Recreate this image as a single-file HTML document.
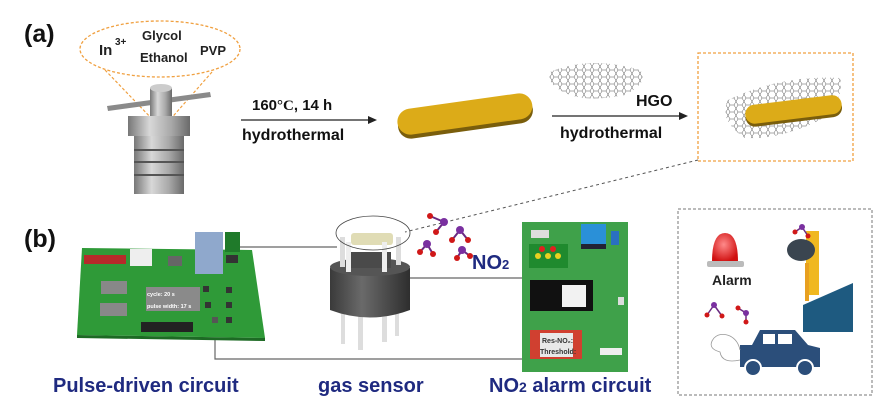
<!DOCTYPE html>
<html><head><meta charset="utf-8"><style>
html,body{margin:0;padding:0;background:#fff;}
svg{display:block;font-family:"Liberation Sans",Arial,sans-serif;}
</style></head><body>
<svg width="893" height="410" viewBox="0 0 893 410" xmlns="http://www.w3.org/2000/svg">
<defs>
<linearGradient id="metal" x1="0" x2="1"><stop offset="0" stop-color="#777"/><stop offset="0.35" stop-color="#d8d8d8"/><stop offset="0.7" stop-color="#a8a8a8"/><stop offset="1" stop-color="#6a6a6a"/></linearGradient>
<linearGradient id="dark" x1="0" x2="1"><stop offset="0" stop-color="#3a3a3a"/><stop offset="0.4" stop-color="#6a6a6a"/><stop offset="1" stop-color="#2e2e2e"/></linearGradient>
<radialGradient id="red" cx="0.45" cy="0.4" r="0.6"><stop offset="0" stop-color="#ff8a8a"/><stop offset="1" stop-color="#d01010"/></radialGradient>
<pattern id="hex" width="8" height="7" patternUnits="userSpaceOnUse"><path d="M2 0L6 0L8 3.5L6 7L2 7L0 3.5Z" fill="none" stroke="#555" stroke-width="0.5"/></pattern>
</defs>

<!-- (a) -->
<text x="24" y="42" font-size="25" font-weight="bold" fill="#111">(a)</text>
<ellipse cx="160" cy="49" rx="80" ry="28" fill="none" stroke="#f0a040" stroke-width="1.3" stroke-dasharray="3,2"/>
<line x1="105" y1="70" x2="155" y2="122" stroke="#f0a040" stroke-width="1.2" stroke-dasharray="3,2"/>
<line x1="212" y1="72" x2="168" y2="122" stroke="#f0a040" stroke-width="1.2" stroke-dasharray="3,2"/>
<text x="99" y="55" font-size="15" font-weight="bold" fill="#222">In</text>
<text x="115" y="45" font-size="10" font-weight="bold" fill="#222">3+</text>
<text x="142" y="40" font-size="13" font-weight="bold" fill="#222">Glycol</text>
<text x="140" y="62" font-size="13" font-weight="bold" fill="#222">Ethanol</text>
<text x="200" y="55" font-size="13" font-weight="bold" fill="#222">PVP</text>

<!-- autoclave -->
<polygon points="107,106 210,92 211,97 108,111" fill="#8a8a8a"/>
<rect x="150" y="88" width="22" height="28" fill="url(#metal)"/>
<ellipse cx="161" cy="88" rx="11" ry="4" fill="#ccc"/>
<rect x="128" y="116" width="62" height="20" fill="url(#metal)"/>
<rect x="134" y="136" width="50" height="58" fill="url(#metal)"/>
<line x1="134" y1="150" x2="184" y2="150" stroke="#555" stroke-width="2"/>
<line x1="134" y1="162" x2="184" y2="162" stroke="#555" stroke-width="2"/>
<line x1="134" y1="175" x2="184" y2="175" stroke="#555" stroke-width="2"/>

<!-- arrow 1 -->
<text x="252" y="110" font-size="15" font-weight="bold" fill="#111">160<tspan font-family="Liberation Serif">°C</tspan>, 14 h</text>
<line x1="241" y1="120" x2="370" y2="120" stroke="#222" stroke-width="1.3"/>
<polygon points="377,120 368,116 368,124" fill="#222"/>
<text x="242" y="140" font-size="16" font-weight="bold" fill="#111">hydrothermal</text>

<!-- disk 1 -->
<g transform="rotate(-8 465 115)">
<rect x="397" y="105" width="136" height="26" rx="13" fill="#7a5e0c"/>
<rect x="397" y="101" width="136" height="26" rx="13" fill="#dcab18"/>
</g>

<!-- HGO graphene -->
<path d="M550 72 Q590 55 640 70 Q650 82 625 95 Q590 102 570 95 Q545 85 550 72 Z" fill="url(#hex)"/>
<text x="636" y="106" font-size="16" font-weight="bold" fill="#111">HGO</text>
<line x1="552" y1="116" x2="680" y2="116" stroke="#222" stroke-width="1.3"/>
<polygon points="688,116 679,112 679,120" fill="#222"/>
<text x="560" y="138" font-size="16" font-weight="bold" fill="#111">hydrothermal</text>

<!-- orange box -->
<rect x="698" y="53" width="155" height="108" fill="none" stroke="#f0a040" stroke-width="1.3" stroke-dasharray="3,2"/>
<path d="M728 100 Q780 75 840 78 Q845 100 820 120 Q780 140 745 138 Q718 120 728 100 Z" fill="url(#hex)"/>
<g transform="rotate(-7 793 110)">
<rect x="745" y="103" width="97" height="19" rx="9.5" fill="#7a5e0c"/>
<rect x="745" y="100" width="97" height="19" rx="9.5" fill="#dcab18"/>
</g>

<!-- dashed link -->
<line x1="698" y1="160" x2="405" y2="232" stroke="#555" stroke-width="1" stroke-dasharray="3,3"/>

<!-- (b) -->
<text x="24" y="247" font-size="25" font-weight="bold" fill="#111">(b)</text>

<!-- connectors -->
<polyline points="238,247 337,247" fill="none" stroke="#666" stroke-width="1.2"/>
<polyline points="410,278 522,278" fill="none" stroke="#666" stroke-width="1.2"/>
<polyline points="215,338 215,359 522,359" fill="none" stroke="#666" stroke-width="1.2"/>

<!-- pulse PCB -->
<polygon points="82,248 252,250 265,338 77,335" fill="#2f9a38"/>
<polygon points="77,335 265,338 265,341 77,338" fill="#1d6a24"/>
<rect x="84" y="255" width="42" height="9" fill="#b52a2a"/>
<rect x="130" y="249" width="22" height="17" fill="#eee"/>
<rect x="195" y="232" width="28" height="42" fill="#8fa8cc"/>
<rect x="225" y="232" width="15" height="20" fill="#1f7a2a"/>
<rect x="226" y="255" width="12" height="8" fill="#333"/>
<rect x="168" y="256" width="14" height="10" fill="#666"/>
<rect x="101" y="281" width="26" height="13" fill="#888"/>
<rect x="100" y="303" width="27" height="13" fill="#888"/>
<rect x="146" y="287" width="54" height="24" fill="#8a8a8a"/>
<text x="147" y="296" font-size="5.5" fill="#fff" font-weight="bold">cycle: 20 s</text>
<text x="147" y="308" font-size="5.5" fill="#fff" font-weight="bold">pulse width: 17 s</text>
<rect x="141" y="322" width="52" height="10" fill="#222"/>
<rect x="203" y="286" width="6" height="6" fill="#333"/><rect x="226" y="287" width="6" height="6" fill="#333"/>
<rect x="205" y="302" width="6" height="6" fill="#333"/><rect x="226" y="302" width="6" height="6" fill="#333"/>
<rect x="226" y="317" width="6" height="6" fill="#333"/><rect x="212" y="317" width="6" height="6" fill="#555"/>

<!-- gas sensor -->
<rect x="341" y="310" width="4" height="34" fill="#ddd"/><rect x="358" y="312" width="5" height="38" fill="#ddd"/>
<rect x="382" y="310" width="5" height="32" fill="#ddd"/><rect x="395" y="308" width="4" height="28" fill="#ddd"/>
<path d="M330 268 L410 268 L410 310 Q370 325 330 310 Z" fill="url(#dark)"/>
<ellipse cx="370" cy="267" rx="40" ry="9" fill="#555"/>
<rect x="351" y="252" width="40" height="16" fill="#4a4a4a"/>
<rect x="351" y="233" width="42" height="12" rx="3" fill="#e0dcb5"/>
<rect x="340" y="237" width="5" height="30" fill="#ddd"/><rect x="346" y="242" width="5" height="30" fill="#eee"/>
<rect x="382" y="242" width="5" height="30" fill="#eee"/><rect x="396" y="237" width="5" height="28" fill="#ddd"/>
<ellipse cx="373" cy="233" rx="37" ry="17" fill="none" stroke="#444" stroke-width="0.8"/>

<!-- molecules -->
<g stroke="#6a2a80" stroke-width="2">
<line x1="430" y1="216" x2="444" y2="222"/><line x1="444" y1="222" x2="436" y2="232"/>
<line x1="427" y1="244" x2="433" y2="254"/><line x1="427" y1="244" x2="420" y2="252"/>
<line x1="460" y1="230" x2="468" y2="240"/><line x1="460" y1="230" x2="452" y2="240"/>
<line x1="462" y1="250" x2="457" y2="258"/><line x1="462" y1="250" x2="470" y2="256"/>
</g>
<g fill="#7a30a0"><circle cx="444" cy="222" r="4"/><circle cx="427" cy="244" r="4"/><circle cx="460" cy="230" r="4"/><circle cx="462" cy="250" r="4"/></g>
<g fill="#d01818"><circle cx="430" cy="216" r="3"/><circle cx="436" cy="232" r="3"/><circle cx="433" cy="254" r="3"/><circle cx="420" cy="252" r="3"/><circle cx="468" cy="240" r="3"/><circle cx="452" cy="240" r="3"/><circle cx="457" cy="258" r="3"/><circle cx="470" cy="256" r="3"/></g>
<text x="472" y="269" font-size="20" font-weight="bold" fill="#1f2a80">NO<tspan font-size="13">2</tspan></text>

<!-- alarm PCB -->
<rect x="522" y="222" width="106" height="150" fill="#3fa14a"/>
<rect x="531" y="230" width="18" height="8" fill="#ddd"/>
<rect x="529" y="244" width="39" height="24" fill="#1f8a2e"/>
<circle cx="542" cy="249" r="3" fill="#e02020"/><circle cx="553" cy="249" r="3" fill="#e02020"/>
<circle cx="538" cy="256" r="3" fill="#e8d020"/><circle cx="548" cy="256" r="3" fill="#e8d020"/><circle cx="558" cy="256" r="3" fill="#e8d020"/>
<rect x="581" y="224" width="25" height="20" fill="#2a90d8"/><rect x="581" y="244" width="25" height="5" fill="#223"/>
<rect x="611" y="231" width="8" height="14" fill="#2a70c0"/>
<rect x="530" y="280" width="63" height="31" fill="#111"/>
<rect x="562" y="285" width="24" height="22" fill="#f2f2f2"/>
<rect x="530" y="330" width="52" height="29" fill="#d04030"/>
<rect x="540" y="333" width="33" height="24" fill="#e8e8e8"/>
<text x="542" y="343" font-size="7" font-weight="bold" fill="#333">Res-NO₂:</text>
<text x="540" y="354" font-size="7" font-weight="bold" fill="#333">Threshold:</text>
<rect x="600" y="348" width="22" height="7" fill="#eee"/>
<rect x="618" y="297" width="6" height="8" fill="#ddd"/>

<!-- labels -->
<text x="53" y="392" font-size="20" font-weight="bold" fill="#1f2a80">Pulse-driven circuit</text>
<text x="318" y="392" font-size="20" font-weight="bold" fill="#1f2a80">gas sensor</text>
<text x="489" y="392" font-size="20" font-weight="bold" fill="#1f2a80">NO<tspan font-size="14">2</tspan> alarm circuit</text>

<!-- grey box -->
<rect x="678" y="209" width="194" height="186" fill="none" stroke="#777" stroke-width="1" stroke-dasharray="3,2"/>
<path d="M712 262 Q712 233 725 233 Q738 233 738 262 Z" fill="url(#red)"/>
<rect x="707" y="261" width="37" height="6" rx="2" fill="#bbb"/>
<text x="712" y="285" font-size="14" font-weight="bold" fill="#222">Alarm</text>
<!-- factory -->
<rect x="806" y="231" width="13" height="64" fill="#f0b820"/>
<rect x="805" y="263" width="4" height="38" fill="#e8a020"/>
<polygon points="803,305 853,283 853,332 803,332" fill="#1e5a80"/>
<ellipse cx="801" cy="250" rx="14" ry="11" fill="#3a4550"/>
<!-- car -->
<path d="M740 367 L740 345 L752 345 L760 330 L795 330 L808 345 L820 348 L820 367 Z" fill="#2b4e7a"/>
<rect x="763" y="334" width="12" height="10" fill="#fff"/><rect x="778" y="334" width="14" height="10" fill="#fff"/>
<circle cx="753" cy="368" r="8" fill="#2b4e7a" stroke="#fff" stroke-width="2"/>
<circle cx="805" cy="368" r="8" fill="#2b4e7a" stroke="#fff" stroke-width="2"/>
<path d="M740 360 Q722 364 720 352 Q706 348 714 338 Q720 332 730 336 Q738 340 740 350" fill="none" stroke="#999" stroke-width="0.8"/>
<!-- small molecules -->
<g stroke="#6a2a80" stroke-width="1.5"><line x1="707" y1="315" x2="714" y2="305"/><line x1="714" y1="305" x2="722" y2="316"/><line x1="738" y1="308" x2="746" y2="313"/><line x1="746" y1="313" x2="746" y2="322"/><line x1="795" y1="232" x2="802" y2="227"/><line x1="802" y1="227" x2="808" y2="236"/></g>
<g fill="#7a30a0"><circle cx="714" cy="305" r="3"/><circle cx="746" cy="313" r="3"/><circle cx="802" cy="227" r="3"/></g>
<g fill="#d01818"><circle cx="707" cy="315" r="2.5"/><circle cx="722" cy="316" r="2.5"/><circle cx="738" cy="308" r="2.5"/><circle cx="746" cy="322" r="2.5"/><circle cx="795" cy="232" r="2.5"/><circle cx="808" cy="236" r="2.5"/></g>
</svg>
</body></html>
